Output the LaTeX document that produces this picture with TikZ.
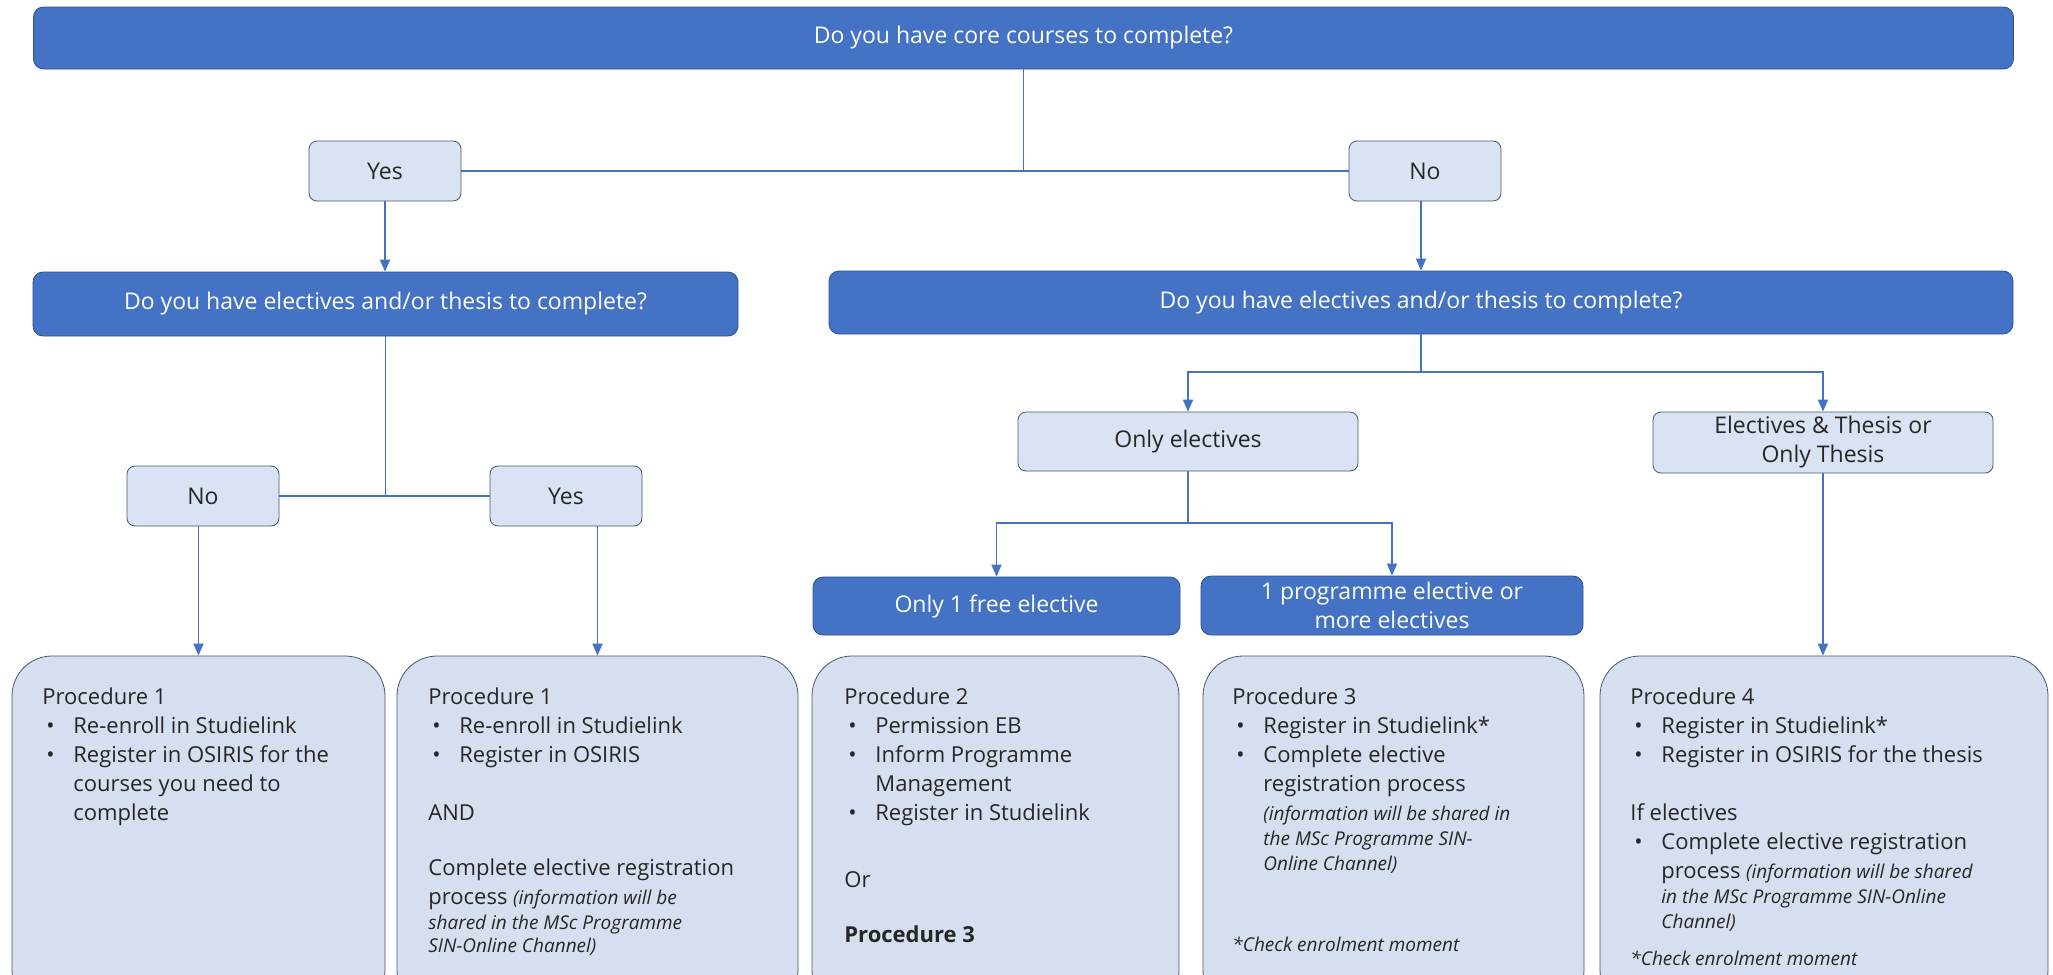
\documentclass[tikz,border=0pt]{standalone}
\usepackage{fontspec}
\setmainfont{Open Sans}
\usetikzlibrary{arrows.meta}

\definecolor{barblue}{HTML}{4472C4}
\definecolor{barline}{HTML}{2F528F}
\definecolor{boxfill}{HTML}{DAE3F3}
\definecolor{boxline}{HTML}{46566F}
\definecolor{procfill}{HTML}{D6DFF0}
\definecolor{inktext}{HTML}{262626}

\newcommand{\bl}{\hspace*{2pt}\makebox[13.5pt][l]{\textbullet}}
\newcommand{\ind}{\hspace*{15.5pt}}
\newcommand{\note}{\fontsize{9.5}{12.5}\selectfont\itshape}

\begin{document}
\begin{tikzpicture}[x=0.5pt,y=-0.5pt,
  bar/.style={draw=barline, fill=barblue, text=white, rounded corners=5pt,
    font=\fontsize{11.5}{14.5}\selectfont, align=center, inner sep=0pt},
  choice/.style={draw=boxline, fill=boxfill, text=inktext, rounded corners=4pt,
    font=\fontsize{11.5}{14.5}\selectfont, align=center, inner sep=0pt},
  proc/.style={draw=boxline, fill=procfill, rounded corners=20pt,
    minimum height=177pt, inner sep=0pt},
  steps/.style={anchor=north west, inner sep=0pt, align=left, text=inktext,
    font=\fontsize{11}{14.5}\selectfont},
  link/.style={draw=barblue, line width=0.9pt},
  arr/.style={link, -{Triangle[length=6pt,width=5pt]}}]
\useasboundingbox (0,0) rectangle (2053,975);
\clip (0,0) rectangle (2053,975);
\fill[white] (0,0) rectangle (2053,975);

% questions
\node[bar, minimum width=990pt, minimum height=31pt] (core) at (1023.5,38) {Do you have core courses to complete?};
\node[choice, minimum width=76pt, minimum height=30pt] (yes1) at (385,171) {Yes};
\node[choice, minimum width=76pt, minimum height=30pt] (no1) at (1425,171) {No};
\node[bar, minimum width=352.5pt, minimum height=32pt] (elecL) at (385.5,304) {Do you have electives and/or thesis to complete?};
\node[bar, minimum width=592pt, minimum height=31.5pt] (elecR) at (1421,302.5) {Do you have electives and/or thesis to complete?};
\node[choice, minimum width=76pt, minimum height=30pt] (no2) at (203,496) {No};
\node[choice, minimum width=76pt, minimum height=30pt] (yes2) at (566,496) {Yes};
\node[choice, minimum width=170pt, minimum height=29.5pt] (onlyel) at (1188,441.5) {Only electives};
\node[choice, minimum width=170pt, minimum height=30.5pt] (elth) at (1823,442.5) {Electives \& Thesis or\\Only Thesis};
\node[bar, minimum width=183.5pt, minimum height=29pt] (free) at (996.5,606) {Only 1 free elective};
\node[bar, minimum width=191pt, minimum height=29.5pt] (prog) at (1392,605.5) {1 programme elective or\\more electives};

% procedures
\node[proc, minimum width=186.5pt] (proc1a) at (198.5,833) {};
\node[proc, minimum width=200.5pt] (proc1b) at (597.5,833) {};
\node[proc, minimum width=183.5pt] (proc2) at (995.5,833) {};
\node[proc, minimum width=190.5pt] (proc3) at (1393.5,833) {};
\node[proc, minimum width=224pt] (proc4) at (1824,833) {};

\node[steps] (txt1a) at (42,687) {Procedure 1\\
\bl Re-enroll in Studielink\\
\bl Register in OSIRIS for the\\
\ind courses you need to\\
\ind complete};
\node[steps] (txt1b) at (428,687) {Procedure 1\\
\bl Re-enroll in Studielink\\
\bl Register in OSIRIS\\[14.5pt]
AND\\[13pt]
Complete elective registration\\
process {\note (information will be}\\[-2pt]
{\note shared in the MSc Programme}\\[-3pt]
{\note SIN-Online Channel)}};
\node[steps] (txt2) at (844,687) {Procedure 2\\
\bl Permission EB\\
\bl Inform Programme\\
\ind Management\\
\bl Register in Studielink\\[19pt]
Or\\[13pt]
\textbf{Procedure 3}};
\node[steps] (txt3) at (1232,687) {Procedure 3\\
\bl Register in Studielink*\\
\bl Complete elective\\
\ind registration process\\
\ind{\note (information will be shared in}\\[-2pt]
\ind{\note the MSc Programme SIN-}\\[-2pt]
\ind{\note Online Channel)}\\[26pt]
{\note *Check enrolment moment}};
\node[steps] (txt4) at (1630,687) {Procedure 4\\
\bl Register in Studielink*\\
\bl Register in OSIRIS for the thesis\\[14.5pt]
If electives\\
\bl Complete elective registration\\
\ind process {\note (information will be shared}\\[-2pt]
\ind{\note in the MSc Programme SIN-Online}\\[-2pt]
\ind{\note Channel)}\\[4pt]
{\note *Check enrolment moment}};

% connectors
\draw[link] (core.south) -- (core.south |- yes1.east);
\draw[link] (yes1.east) -- (no1.west);
\draw[arr] (yes1.south) -- (yes1.south |- elecL.north);
\draw[arr] (no1.south -| elecR.north) -- (elecR.north);
\draw[link] (elecL.south) -- (elecL.south |- no2.east);
\draw[link] (no2.east) -- (yes2.west);
\draw[arr] (proc1a.north |- no2.south) -- (proc1a.north);
\draw[arr] (proc1b.north |- yes2.south) -- (proc1b.north);
\coordinate (forkR) at (1421,372);
\draw[link] (elecR.south) -- (forkR);
\draw[arr] (forkR) -| (onlyel.north);
\draw[arr] (forkR) -| (elth.north);
\coordinate (forkE) at (1188,523);
\draw[link] (onlyel.south) -- (forkE);
\draw[arr] (forkE) -| (free.north);
\draw[arr] (forkE) -| (prog.north);
\draw[arr] (elth.south) -- (elth.south |- proc4.north);
\end{tikzpicture}
\end{document}
